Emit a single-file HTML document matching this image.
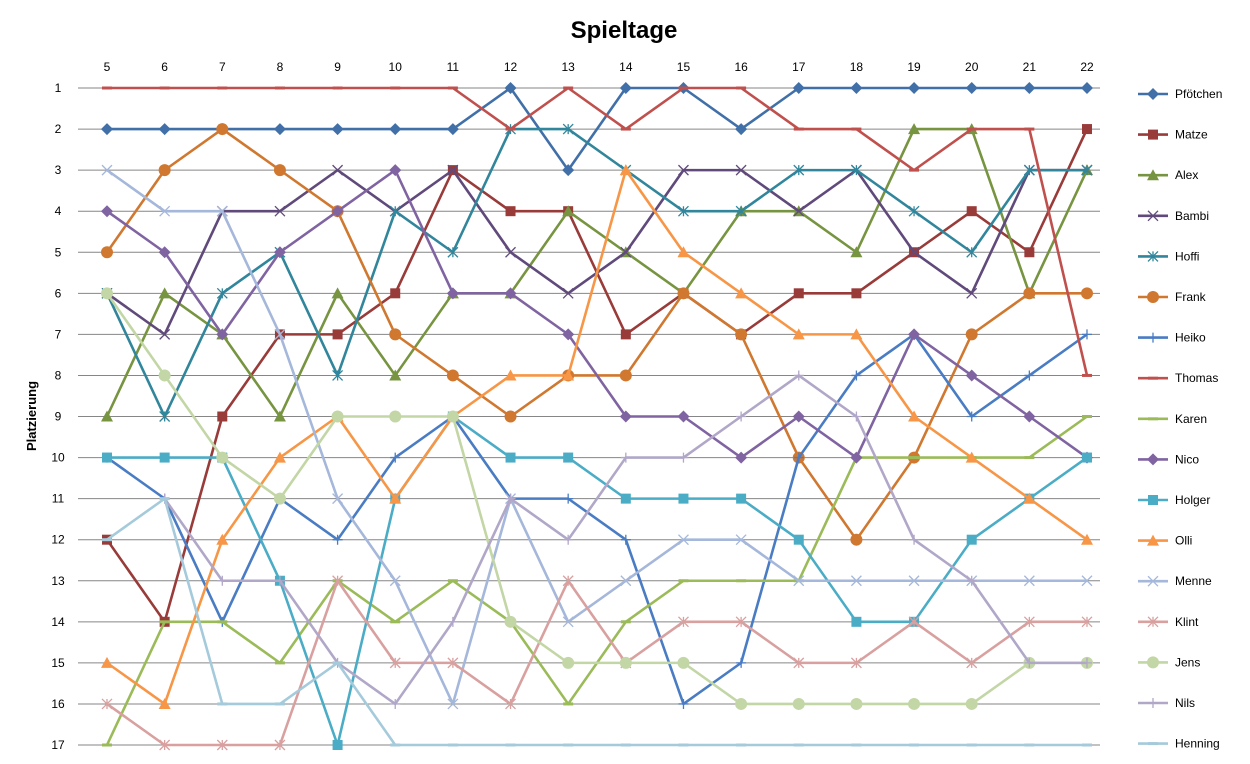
<!DOCTYPE html>
<html><head><meta charset="utf-8"><style>
body{margin:0;background:#fff;font-family:"Liberation Sans",sans-serif}
svg{display:block}
</style></head><body>
<svg id="chart" width="1250" height="764"></svg>
<script>
const days=[5,6,7,8,9,10,11,12,13,14,15,16,17,18,19,20,21,22];
const ranks=[1,2,3,4,5,6,7,8,9,10,11,12,13,14,15,16,17];
const names=["Pfötchen","Matze","Alex","Bambi","Hoffi","Frank","Heiko","Thomas","Karen","Nico","Holger","Olli","Menne","Klint","Jens","Nils","Henning"];
const pfoetchen=[2,2,2,2,2,2,2,1,3,1,1,2,1,1,1,1,1,1];
const matze=[12,14,9,7,7,6,3,4,4,7,6,7,6,6,5,4,5,2];
const alex=[9,6,7,9,6,8,6,6,4,5,6,4,4,5,2,2,6,3];
const bambi=[6,7,4,4,3,4,3,5,6,5,3,3,4,3,5,6,3,3];
const hoffi=[6,9,6,5,8,4,5,2,2,3,4,4,3,3,4,5,3,3];
const frank=[5,3,2,3,4,7,8,9,8,8,6,7,10,12,10,7,6,6];
const heiko=[10,11,14,11,12,10,9,11,11,12,16,15,10,8,7,9,8,7];
const thomas=[1,1,1,1,1,1,1,2,1,2,1,1,2,2,3,2,2,8];
const karen=[17,14,14,15,13,14,13,14,16,14,13,13,13,10,10,10,10,9];
const nico=[4,5,7,5,4,3,6,6,7,9,9,10,9,10,7,8,9,10];
const holger=[10,10,10,13,17,11,9,10,10,11,11,11,12,14,14,12,11,10];
const olli=[15,16,12,10,9,11,9,8,8,3,5,6,7,7,9,10,11,12];
const menne=[3,4,4,7,11,13,16,11,14,13,12,12,13,13,13,13,13,13];
const klint=[16,17,17,17,13,15,15,16,13,15,14,14,15,15,14,15,14,14];
const jens=[6,8,10,11,9,9,9,14,15,15,15,16,16,16,16,16,15,15];
const nils=[null,11,13,13,15,16,14,11,12,10,10,9,8,9,12,13,15,15];
const henning=[12,11,16,16,15,17,17,17,17,17,17,17,17,17,17,17,17,17];
const series=[pfoetchen,matze,alex,bambi,hoffi,frank,heiko,thomas,karen,nico,holger,olli,menne,klint,jens,nils,henning];
const colors=["#4170A9","#983B39","#779440","#604A7B","#31869C","#D0782F","#4A7CC4","#C0504D","#9BBB59","#8064A2","#4BACC6","#F79646","#A5B7DA","#D9A0A0","#C3D6A6","#B1A7C8","#A5CADB"];
const markers=["diamond","square","triangle","x","star","circle","plus","dash","dash","diamond","square","triangle","x","star","circle","plus","dash"];
const NS="http://www.w3.org/2000/svg";
const svg=document.getElementById("chart");
const X0=107,X1=1087,Y0=88,Y1=745;
const xs=d=>X0+(d-days[0])*(X1-X0)/(days[days.length-1]-days[0]);
const ys=r=>Y0+(r-1)*(Y1-Y0)/16;
function mk(tag,attrs,parent){const e=document.createElementNS(NS,tag);for(const k in attrs)e.setAttribute(k,attrs[k]);(parent||svg).appendChild(e);return e;}
const title=mk("text",{x:624,y:38,"text-anchor":"middle","font-size":"24","font-weight":"bold",fill:"#000"});


title.textContent="Spieltage";
const yt=mk("text",{x:0,y:0,transform:"translate(36,416) rotate(-90)","text-anchor":"middle","font-size":"13","font-weight":"bold",fill:"#000"});


yt.textContent="Platzierung";
ranks.forEach(r=>{
 const g=mk("line",{x1:78,x2:1100,y1:ys(r),y2:ys(r),stroke:"#868686","stroke-width":1});
 
 
 const t=mk("text",{x:58,y:ys(r)+4,"text-anchor":"middle","font-size":"12",fill:"#000"});
 
 
 t.textContent=r;
});
days.forEach(d=>{
 const t=mk("text",{x:xs(d),y:71,"text-anchor":"middle","font-size":"12",fill:"#000"});
 
 
 t.textContent=d;
});
function marker(type,x,y,c,parent){
 const s=5;let e;
 if(type==="diamond")e=mk("polygon",{points:`${x},${y-s-1} ${x+s+1},${y} ${x},${y+s+1} ${x-s-1},${y}`,fill:c},parent);
 else if(type==="square")e=mk("rect",{x:x-s,y:y-s,width:2*s,height:2*s,fill:c},parent);
 else if(type==="triangle")e=mk("polygon",{points:`${x},${y-s-1} ${x+s+1},${y+s} ${x-s-1},${y+s}`,fill:c},parent);
 else if(type==="circle")e=mk("circle",{cx:x,cy:y,r:s+1,fill:c},parent);
 else if(type==="x")e=mk("path",{d:`M${x-s},${y-s}L${x+s},${y+s}M${x-s},${y+s}L${x+s},${y-s}`,stroke:c,"stroke-width":1.3,fill:"none"},parent);
 else if(type==="star")e=mk("path",{d:`M${x-s},${y-s}L${x+s},${y+s}M${x-s},${y+s}L${x+s},${y-s}M${x},${y-s}L${x},${y+s}`,stroke:c,"stroke-width":1.3,fill:"none"},parent);
 else if(type==="plus")e=mk("path",{d:`M${x-s},${y}L${x+s},${y}M${x},${y-s}L${x},${y+s}`,stroke:c,"stroke-width":1.3,fill:"none"},parent);
 else e=mk("path",{d:`M${x-s},${y}L${x+s},${y}`,stroke:c,"stroke-width":3,fill:"none"},parent);
 
 
}
series.forEach((vals,i)=>{
 const g=mk("g",{});
 
 
 let d="",pen=false;
 vals.forEach((v,j)=>{if(v==null){pen=false;return;}d+=(pen?"L":"M")+xs(days[j])+","+ys(v);pen=true;});
 const p=mk("path",{d:d,fill:"none",stroke:colors[i],"stroke-width":2.6,"stroke-linejoin":"round"},g);
 
 
 vals.forEach((v,j)=>{if(v!=null)marker(markers[i],xs(days[j]),ys(v),colors[i],g);});
});
names.forEach((n,i)=>{
 const y=94+i*40.6;
 const g=mk("g",{});
 
 
 const l=mk("line",{x1:1138,x2:1168,y1:y,y2:y,stroke:colors[i],"stroke-width":2.6},g);
 
 
 marker(markers[i],1153,y,colors[i],g);
 const t=mk("text",{x:1175,y:y+4,"font-size":"12",fill:"#000"},g);
 
 
 t.textContent=n;
});
</script>
</body></html>
